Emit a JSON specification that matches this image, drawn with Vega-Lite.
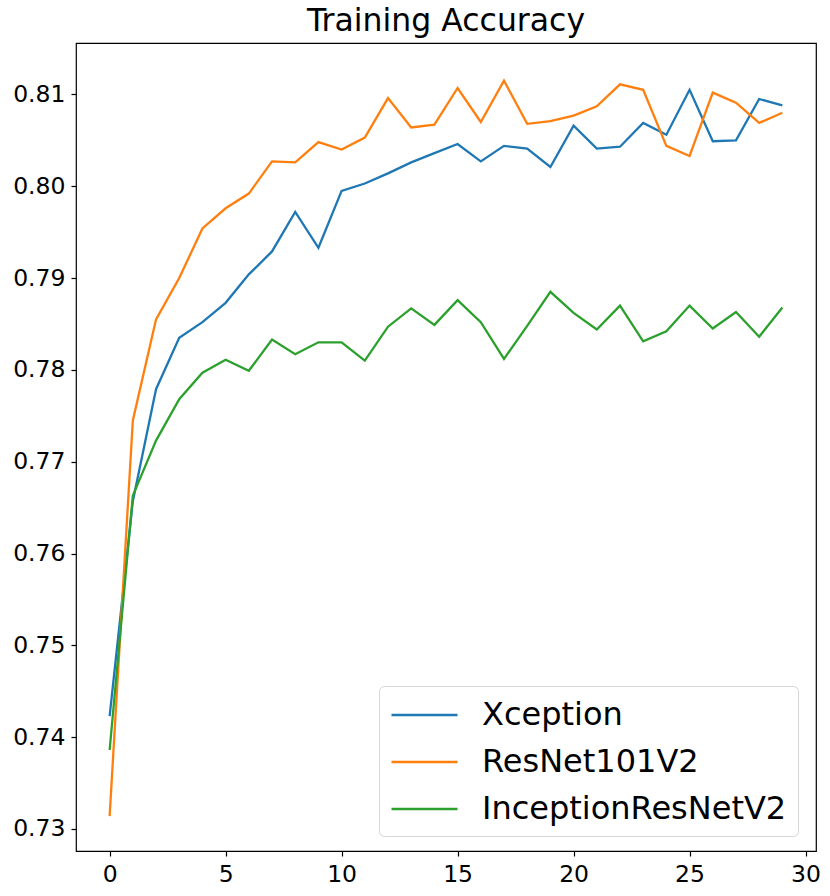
{
  "$schema": "https://vega.github.io/schema/vega-lite/v6.json",
  "autosize": {"type": "none"},
  "width": 740,
  "height": 808,
  "padding": {"left": 76, "top": 43, "right": 14, "bottom": 45},
  "background": "white",
  "title": {"text": "Training Accuracy", "fontSize": 31.5, "font": "DejaVu Sans", "fontWeight": "normal", "color": "black", "anchor": "middle", "frame": "group", "baseline": "alphabetic", "offset": 10, "dy": 29},
  "config": {
    "font": "DejaVu Sans",
    "view": {"stroke": "black", "strokeWidth": 1.2},
    "axis": {"grid": false, "domain": false, "tickColor": "black", "tickSize": 5, "tickWidth": 1.2, "labelFontSize": 23.5, "labelColor": "black", "labelFont": "DejaVu Sans", "labelPadding": 6, "title": null}
  },
  "datasets": {
    "acc": [
      {"epoch": 0, "model": "Xception", "acc": 0.7423},
      {"epoch": 1, "model": "Xception", "acc": 0.7657},
      {"epoch": 2, "model": "Xception", "acc": 0.7779},
      {"epoch": 3, "model": "Xception", "acc": 0.7835},
      {"epoch": 4, "model": "Xception", "acc": 0.7852},
      {"epoch": 5, "model": "Xception", "acc": 0.7873},
      {"epoch": 6, "model": "Xception", "acc": 0.7904},
      {"epoch": 7, "model": "Xception", "acc": 0.7929},
      {"epoch": 8, "model": "Xception", "acc": 0.7972},
      {"epoch": 9, "model": "Xception", "acc": 0.7933},
      {"epoch": 10, "model": "Xception", "acc": 0.7995},
      {"epoch": 11, "model": "Xception", "acc": 0.8003},
      {"epoch": 12, "model": "Xception", "acc": 0.8014},
      {"epoch": 13, "model": "Xception", "acc": 0.8026},
      {"epoch": 14, "model": "Xception", "acc": 0.8036},
      {"epoch": 15, "model": "Xception", "acc": 0.8046},
      {"epoch": 16, "model": "Xception", "acc": 0.8027},
      {"epoch": 17, "model": "Xception", "acc": 0.8044},
      {"epoch": 18, "model": "Xception", "acc": 0.8041},
      {"epoch": 19, "model": "Xception", "acc": 0.8021},
      {"epoch": 20, "model": "Xception", "acc": 0.8066},
      {"epoch": 21, "model": "Xception", "acc": 0.8041},
      {"epoch": 22, "model": "Xception", "acc": 0.8043},
      {"epoch": 23, "model": "Xception", "acc": 0.8069},
      {"epoch": 24, "model": "Xception", "acc": 0.8056},
      {"epoch": 25, "model": "Xception", "acc": 0.8105},
      {"epoch": 26, "model": "Xception", "acc": 0.8049},
      {"epoch": 27, "model": "Xception", "acc": 0.8050},
      {"epoch": 28, "model": "Xception", "acc": 0.8095},
      {"epoch": 29, "model": "Xception", "acc": 0.8088},
      {"epoch": 0, "model": "ResNet101V2", "acc": 0.7314},
      {"epoch": 1, "model": "ResNet101V2", "acc": 0.7745},
      {"epoch": 2, "model": "ResNet101V2", "acc": 0.7855},
      {"epoch": 3, "model": "ResNet101V2", "acc": 0.7900},
      {"epoch": 4, "model": "ResNet101V2", "acc": 0.7954},
      {"epoch": 5, "model": "ResNet101V2", "acc": 0.7976},
      {"epoch": 6, "model": "ResNet101V2", "acc": 0.7992},
      {"epoch": 7, "model": "ResNet101V2", "acc": 0.8027},
      {"epoch": 8, "model": "ResNet101V2", "acc": 0.8026},
      {"epoch": 9, "model": "ResNet101V2", "acc": 0.8048},
      {"epoch": 10, "model": "ResNet101V2", "acc": 0.8040},
      {"epoch": 11, "model": "ResNet101V2", "acc": 0.8053},
      {"epoch": 12, "model": "ResNet101V2", "acc": 0.8096},
      {"epoch": 13, "model": "ResNet101V2", "acc": 0.8064},
      {"epoch": 14, "model": "ResNet101V2", "acc": 0.8067},
      {"epoch": 15, "model": "ResNet101V2", "acc": 0.8107},
      {"epoch": 16, "model": "ResNet101V2", "acc": 0.8070},
      {"epoch": 17, "model": "ResNet101V2", "acc": 0.8115},
      {"epoch": 18, "model": "ResNet101V2", "acc": 0.8068},
      {"epoch": 19, "model": "ResNet101V2", "acc": 0.8071},
      {"epoch": 20, "model": "ResNet101V2", "acc": 0.8077},
      {"epoch": 21, "model": "ResNet101V2", "acc": 0.8087},
      {"epoch": 22, "model": "ResNet101V2", "acc": 0.8111},
      {"epoch": 23, "model": "ResNet101V2", "acc": 0.8105},
      {"epoch": 24, "model": "ResNet101V2", "acc": 0.8044},
      {"epoch": 25, "model": "ResNet101V2", "acc": 0.8033},
      {"epoch": 26, "model": "ResNet101V2", "acc": 0.8102},
      {"epoch": 27, "model": "ResNet101V2", "acc": 0.8091},
      {"epoch": 28, "model": "ResNet101V2", "acc": 0.8069},
      {"epoch": 29, "model": "ResNet101V2", "acc": 0.8080},
      {"epoch": 0, "model": "InceptionResNetV2", "acc": 0.7386},
      {"epoch": 1, "model": "InceptionResNetV2", "acc": 0.7663},
      {"epoch": 2, "model": "InceptionResNetV2", "acc": 0.7723},
      {"epoch": 3, "model": "InceptionResNetV2", "acc": 0.7768},
      {"epoch": 4, "model": "InceptionResNetV2", "acc": 0.7797},
      {"epoch": 5, "model": "InceptionResNetV2", "acc": 0.7811},
      {"epoch": 6, "model": "InceptionResNetV2", "acc": 0.7799},
      {"epoch": 7, "model": "InceptionResNetV2", "acc": 0.7833},
      {"epoch": 8, "model": "InceptionResNetV2", "acc": 0.7817},
      {"epoch": 9, "model": "InceptionResNetV2", "acc": 0.7830},
      {"epoch": 10, "model": "InceptionResNetV2", "acc": 0.7830},
      {"epoch": 11, "model": "InceptionResNetV2", "acc": 0.7810},
      {"epoch": 12, "model": "InceptionResNetV2", "acc": 0.7847},
      {"epoch": 13, "model": "InceptionResNetV2", "acc": 0.7867},
      {"epoch": 14, "model": "InceptionResNetV2", "acc": 0.7849},
      {"epoch": 15, "model": "InceptionResNetV2", "acc": 0.7876},
      {"epoch": 16, "model": "InceptionResNetV2", "acc": 0.7852},
      {"epoch": 17, "model": "InceptionResNetV2", "acc": 0.7812},
      {"epoch": 18, "model": "InceptionResNetV2", "acc": 0.7848},
      {"epoch": 19, "model": "InceptionResNetV2", "acc": 0.7885},
      {"epoch": 20, "model": "InceptionResNetV2", "acc": 0.7862},
      {"epoch": 21, "model": "InceptionResNetV2", "acc": 0.7844},
      {"epoch": 22, "model": "InceptionResNetV2", "acc": 0.7870},
      {"epoch": 23, "model": "InceptionResNetV2", "acc": 0.7831},
      {"epoch": 24, "model": "InceptionResNetV2", "acc": 0.7842},
      {"epoch": 25, "model": "InceptionResNetV2", "acc": 0.7870},
      {"epoch": 26, "model": "InceptionResNetV2", "acc": 0.7845},
      {"epoch": 27, "model": "InceptionResNetV2", "acc": 0.7863},
      {"epoch": 28, "model": "InceptionResNetV2", "acc": 0.7836},
      {"epoch": 29, "model": "InceptionResNetV2", "acc": 0.7868}
    ]
  },
  "data": {"name": "acc"},
  "mark": {"type": "line", "strokeWidth": 2.3, "clip": true},
  "encoding": {
    "x": {"field": "epoch", "type": "quantitative", "scale": {"domain": [-1.45, 30.45], "nice": false, "zero": false}, "axis": {"values": [0, 5, 10, 15, 20, 25, 30], "format": "d"}},
    "y": {"field": "acc", "type": "quantitative", "scale": {"domain": [0.7276, 0.8156], "nice": false, "zero": false}, "axis": {"values": [0.73, 0.74, 0.75, 0.76, 0.77, 0.78, 0.79, 0.80, 0.81], "format": ".2f"}},
    "color": {
      "field": "model", "type": "nominal",
      "scale": {"domain": ["Xception", "ResNet101V2", "InceptionResNetV2"], "range": ["#1f77b4", "#ff7f0e", "#2ca02c"]},
      "legend": {"title": null, "orient": "none", "legendX": 303, "legendY": 643, "symbolType": "M-1,0H3", "symbolSize": 1089, "symbolStrokeWidth": 2.5, "labelFontSize": 32, "labelFont": "DejaVu Sans", "labelColor": "black", "labelOffset": 56, "rowPadding": 13, "padding": 11, "strokeColor": "#d6d6d6", "fillColor": "rgba(255,255,255,0.8)", "cornerRadius": 5, "labelLimit": 500}
    }
  }
}
